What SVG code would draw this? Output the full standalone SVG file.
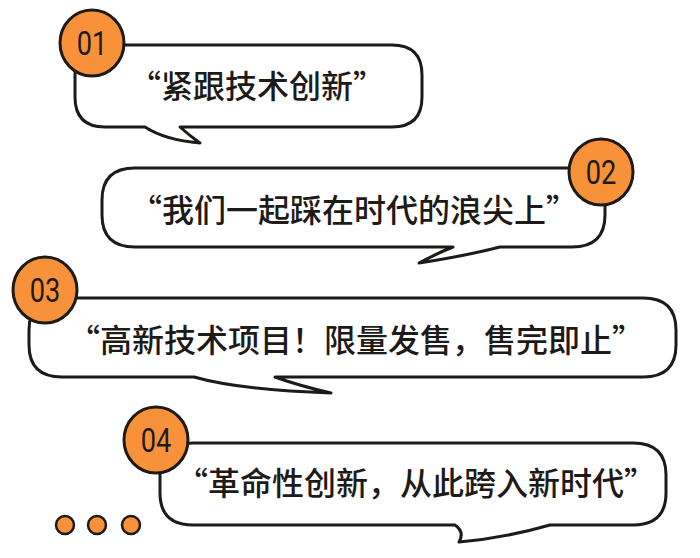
<svg xmlns="http://www.w3.org/2000/svg" width="700" height="558" viewBox="0 0 700 558">
<style>
.b{fill:#fff;stroke:#1e1a18;stroke-width:3;stroke-linejoin:round}
.c{fill:#F7923A;stroke:#1e1a18;stroke-width:3}
.n{font-family:Roboto,"Noto Sans",sans-serif;font-size:34px;fill:#1e1a18;text-anchor:middle}
.t{font-family:"Noto Sans CJK SC","Noto Sans",sans-serif;font-weight:500;font-size:32px;fill:#1e1a18;text-anchor:middle}
.d{fill:#F7923A;stroke:#1e1a18;stroke-width:2.5}
</style>
<rect width="700" height="558" fill="#fff"/>
<g id="n1">
<path class="b" d="M105,45 H392 Q422,45 422,75 V97 Q422,127 392,127 H180 Q190,136 200,143 Q165,140 145,127 H105 Q75,127 75,97 V75 Q75,45 105,45 Z"/>
<ellipse class="c" cx="92" cy="43" rx="32" ry="33"/>
<text class="n" transform="translate(92,55) scale(0.8,1)">01</text>
<text class="t" x="257" y="98" font-size="30">“紧跟技术创新”</text>
</g>
<g id="n2">
<path class="b" d="M135,168 H572 Q605,168 605,200 V215 Q605,247 572,247 H500 Q465,256 419,263 Q440,252 453,247 H135 Q102,247 102,215 V200 Q102,168 135,168 Z"/>
<ellipse class="c" cx="601" cy="172" rx="32" ry="33"/>
<text class="n" transform="translate(601,184) scale(0.8,1)">02</text>
<text class="t" x="354" y="222">“我们一起踩在时代的浪尖上”</text>
</g>
<g id="n3">
<path class="b" d="M62,298 H643 Q676,298 676,330 V345 Q676,377 643,377 H275 Q300,386 331,393 Q240,390 194,377 H62 Q29,377 29,345 V330 Q29,298 62,298 Z"/>
<ellipse class="c" cx="45" cy="290" rx="32" ry="33"/>
<text class="n" transform="translate(45,302) scale(0.8,1)">03</text>
<text class="t" x="356" y="352" font-size="33">“高新技术项目！限量发售，售完即止”</text>
</g>
<g id="n4">
<path class="b" d="M193,443 H633 Q666,443 666,475 V493 Q666,525 633,525 H550 Q505,538 459,542 Q465,532 455,525 H193 Q160,525 160,493 V475 Q160,443 193,443 Z"/>
<ellipse class="c" cx="156" cy="440" rx="32" ry="33"/>
<text class="n" transform="translate(156,452) scale(0.8,1)">04</text>
<text class="t" x="416" y="495" font-size="33">“革命性创新，从此跨入新时代”</text>
</g>
<g id="dots">
<circle class="d" cx="65" cy="525" r="9"/>
<circle class="d" cx="97" cy="525" r="9"/>
<circle class="d" cx="131" cy="525" r="9"/>
</g>
<g id="connectors"/>
</svg>
